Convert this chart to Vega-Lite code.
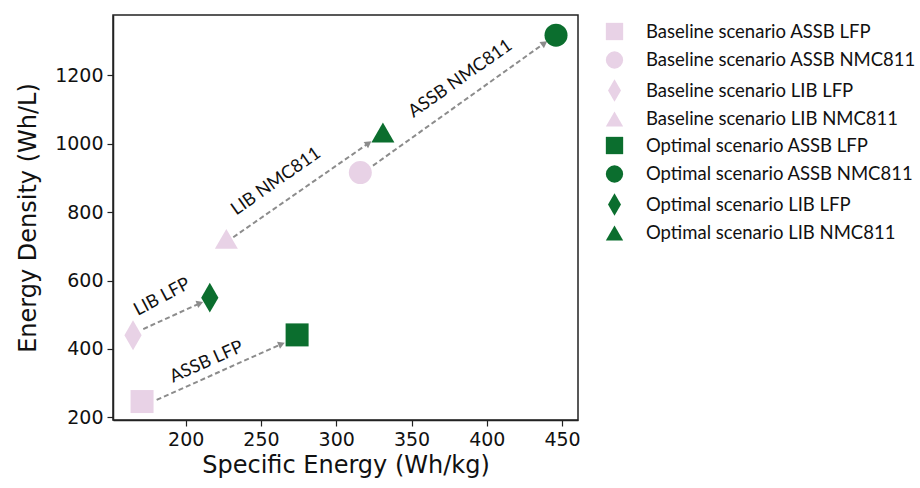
{
  "$schema": "https://vega.github.io/schema/vega-lite/v6.json",
  "autosize": "none",
  "width": 465,
  "height": 405,
  "padding": {"left": 113, "top": 15, "right": 342, "bottom": 68},
  "background": "white",
  "config": {
    "view": {"stroke": "#222", "strokeWidth": 1.5},
    "axis": {"labelFont": "DejaVu Sans", "titleFont": "DejaVu Sans", "labelFontSize": 19, "titleFontSize": 24, "labelColor": "#111", "titleColor": "#111", "titleFontWeight": "normal", "grid": false, "tickColor": "#222", "domainColor": "#222", "tickSize": 6, "tickWidth": 1.2, "domainWidth": 1.5}
  },
  "datasets": {
    "points": [
      {"label": "Baseline scenario ASSB LFP", "energy": 171, "density": 246},
      {"label": "Baseline scenario ASSB NMC811", "energy": 316, "density": 916},
      {"label": "Baseline scenario LIB LFP", "energy": 165, "density": 440},
      {"label": "Baseline scenario LIB NMC811", "energy": 227, "density": 722},
      {"label": "Optimal scenario ASSB LFP", "energy": 274, "density": 441},
      {"label": "Optimal scenario ASSB NMC811", "energy": 446, "density": 1318},
      {"label": "Optimal scenario LIB LFP", "energy": 216, "density": 550},
      {"label": "Optimal scenario LIB NMC811", "energy": 331, "density": 1033}
    ],
    "arrows": [
      {"name": "ASSB LFP", "x1": 180.7, "y1": 250.7, "x2": 263.7, "y2": 414.5, "tx": 213.9, "ty": 361},
      {"name": "LIB LFP", "x1": 171.8, "y1": 458, "x2": 209.5, "y2": 533.6, "tx": 184.4, "ty": 551},
      {"name": "LIB NMC811", "x1": 231.6, "y1": 726.8, "x2": 321.5, "y2": 1001.9, "tx": 260.1, "ty": 889.5},
      {"name": "ASSB NMC811", "x1": 324.4, "y1": 936.3, "x2": 438.3, "y2": 1294.5, "tx": 382.6, "ty": 1190}
    ]
  },
  "layer": [
    {
      "data": {"name": "arrows"},
      "mark": {"type": "rule", "color": "#8c8c8c", "strokeWidth": 2, "strokeDash": [5, 3]},
      "encoding": {
        "x": {"field": "x1", "type": "quantitative", "scale": {"domain": [151.7, 460.6], "nice": false, "zero": false}, "axis": {"values": [200, 250, 300, 350, 400, 450], "format": "d", "title": "Specific Energy (Wh/kg)", "labelPadding": 4, "titlePadding": 4}},
        "y": {"field": "y1", "type": "quantitative", "scale": {"domain": [192, 1377], "nice": false, "zero": false}, "axis": {"values": [200, 400, 600, 800, 1000, 1200], "format": "d", "title": "Energy Density (Wh/L)", "labelPadding": 4, "titlePadding": 14}},
        "x2": {"field": "x2"},
        "y2": {"field": "y2"}
      }
    },
    {
      "data": {"name": "arrows"},
      "transform": [{"filter": "datum.name === 'ASSB LFP'"}],
      "mark": {"type": "point", "shape": "triangle-right", "filled": true, "color": "#8c8c8c", "opacity": 1, "size": 60, "angle": 337},
      "encoding": {"x": {"field": "x2", "type": "quantitative"}, "y": {"field": "y2", "type": "quantitative"}}
    },
    {
      "data": {"name": "arrows"},
      "transform": [{"filter": "datum.name === 'LIB LFP'"}],
      "mark": {"type": "point", "shape": "triangle-right", "filled": true, "color": "#8c8c8c", "opacity": 1, "size": 60, "angle": 340},
      "encoding": {"x": {"field": "x2", "type": "quantitative"}, "y": {"field": "y2", "type": "quantitative"}}
    },
    {
      "data": {"name": "arrows"},
      "transform": [{"filter": "datum.name === 'LIB NMC811' || datum.name === 'ASSB NMC811'"}],
      "mark": {"type": "point", "shape": "triangle-right", "filled": true, "color": "#8c8c8c", "opacity": 1, "size": 60, "angle": 325},
      "encoding": {"x": {"field": "x2", "type": "quantitative"}, "y": {"field": "y2", "type": "quantitative"}}
    },
    {
      "data": {"name": "arrows"},
      "transform": [{"filter": "datum.name === 'ASSB LFP'"}],
      "mark": {"type": "text", "font": "Lato", "fontSize": 18, "color": "#111", "angle": 336},
      "encoding": {"x": {"field": "tx", "type": "quantitative"}, "y": {"field": "ty", "type": "quantitative"}, "text": {"field": "name"}}
    },
    {
      "data": {"name": "arrows"},
      "transform": [{"filter": "datum.name === 'LIB LFP'"}],
      "mark": {"type": "text", "font": "Lato", "fontSize": 18, "color": "#111", "angle": 332},
      "encoding": {"x": {"field": "tx", "type": "quantitative"}, "y": {"field": "ty", "type": "quantitative"}, "text": {"field": "name"}}
    },
    {
      "data": {"name": "arrows"},
      "transform": [{"filter": "datum.name === 'LIB NMC811' || datum.name === 'ASSB NMC811'"}],
      "mark": {"type": "text", "font": "Lato", "fontSize": 18, "color": "#111", "angle": 325},
      "encoding": {"x": {"field": "tx", "type": "quantitative"}, "y": {"field": "ty", "type": "quantitative"}, "text": {"field": "name"}}
    },
    {
      "data": {"name": "points"},
      "mark": {"type": "point", "filled": true, "opacity": 1, "size": 529},
      "encoding": {
        "x": {"field": "energy", "type": "quantitative"},
        "y": {"field": "density", "type": "quantitative"},
        "color": {
          "field": "label", "type": "nominal",
          "scale": {
            "domain": ["Baseline scenario ASSB LFP", "Baseline scenario ASSB NMC811", "Baseline scenario LIB LFP", "Baseline scenario LIB NMC811", "Optimal scenario ASSB LFP", "Optimal scenario ASSB NMC811", "Optimal scenario LIB LFP", "Optimal scenario LIB NMC811"],
            "range": ["#e8d2e6", "#e8d2e6", "#e8d2e6", "#e8d2e6", "#0b6e2e", "#0b6e2e", "#0b6e2e", "#0b6e2e"]
          },
          "legend": {"title": null, "orient": "none", "legendX": 492, "legendY": 7, "labelFont": "Lato", "labelFontSize": 18.5, "labelColor": "#111", "symbolSize": 300, "symbolOpacity": 1, "rowPadding": 3.5, "labelOffset": 22, "labelLimit": 400}
        },
        "shape": {
          "field": "label", "type": "nominal",
          "scale": {
            "domain": ["Baseline scenario ASSB LFP", "Baseline scenario ASSB NMC811", "Baseline scenario LIB LFP", "Baseline scenario LIB NMC811", "Optimal scenario ASSB LFP", "Optimal scenario ASSB NMC811", "Optimal scenario LIB LFP", "Optimal scenario LIB NMC811"],
            "range": ["square", "circle", "M0,-1.3L0.75,0L0,1.3L-0.75,0Z", "triangle-up", "square", "circle", "M0,-1.3L0.75,0L0,1.3L-0.75,0Z", "triangle-up"]
          }
        }
      }
    }
  ]
}
